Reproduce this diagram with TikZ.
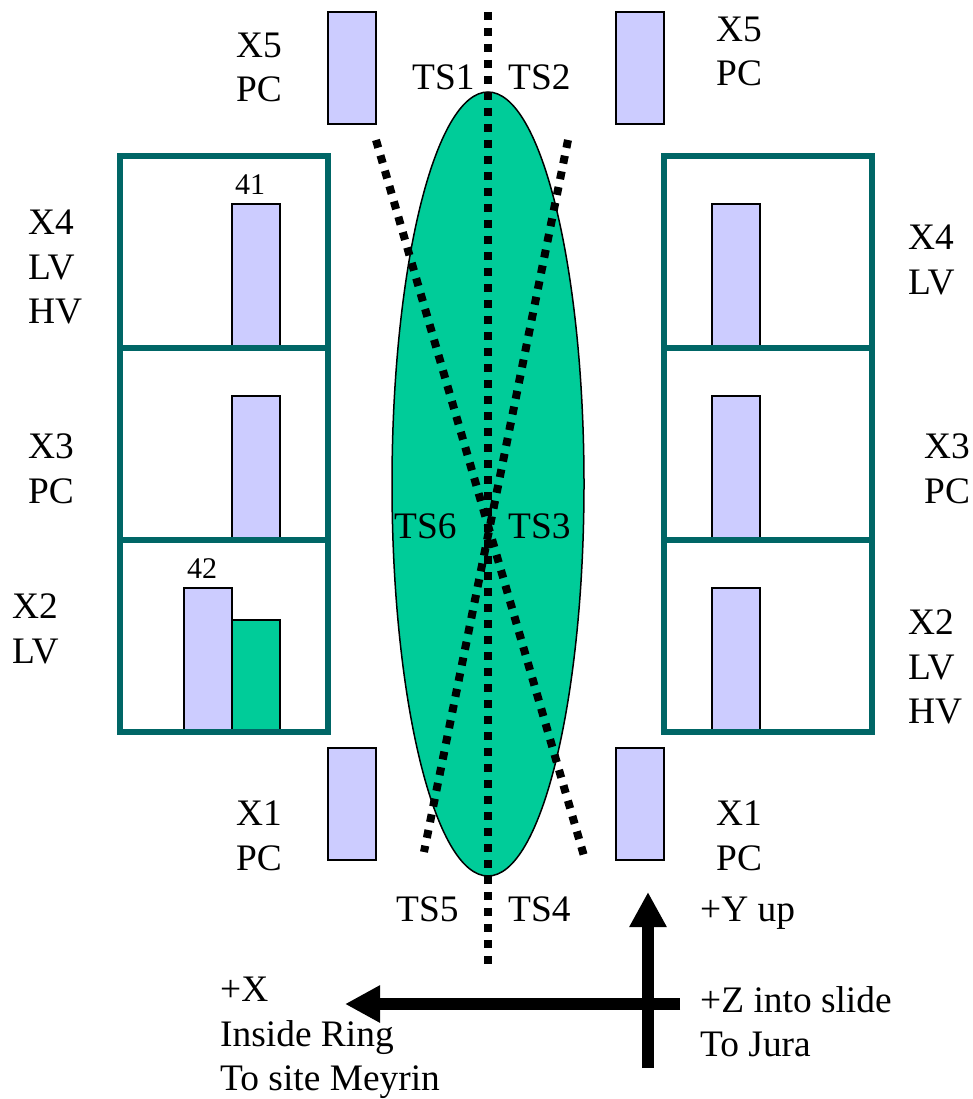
\documentclass[tikz,border=0pt]{standalone}
\usepackage{fontspec}
\setmainfont{Liberation Serif}
\usetikzlibrary{arrows.meta}
\definecolor{teal1}{RGB}{0,102,102}
\definecolor{lav}{RGB}{204,204,255}
\definecolor{grn}{RGB}{0,204,153}
\begin{document}
\begin{tikzpicture}[x=1pt,y=-1pt,
 bar/.style={draw=black,line width=1.5pt,fill=lav,inner sep=0,outer sep=0,minimum width=48pt,anchor=north west},
 cell/.style={draw=teal1,line width=6pt,inner sep=0,outer sep=0,anchor=north west,minimum width=208pt,minimum height=192pt},
 lbl/.style={font=\fontsize{37.4}{44.3}\selectfont,align=left,anchor=north west,inner sep=0},
 small/.style={font=\fontsize{30}{32}\selectfont,inner sep=0,anchor=center},
 dot/.style={line width=8pt,black,dash pattern=on 8pt off 8pt},
 arrow/.style={line width=12pt,-{Triangle[length=35pt,width=35pt]}}]
\useasboundingbox (0,0) rectangle (972,1099);
\node[bar,minimum height=144pt] (c1) at (232,204) {};
\node[bar,minimum height=144pt] (c2) at (232,396) {};
\node[bar,minimum height=144pt] (c3) at (184,588) {};
\node[bar,minimum height=112pt,fill=grn] (c4) at (232,620) {};
\node[bar,minimum height=144pt] (d1) at (712,204) {};
\node[bar,minimum height=144pt] (d2) at (712,396) {};
\node[bar,minimum height=144pt] (d3) at (712,588) {};
\node[cell] (a1) at (120,156) {};
\node[cell] (a2) at (120,348) {};
\node[cell,minimum height=192pt] (a3) at (120,540) {};
\node[cell] (b1) at (664,156) {};
\node[cell] (b2) at (664,348) {};
\node[cell,minimum height=192pt] (b3) at (664,540) {};
\node[bar,minimum height=112pt] (x5l) at (328,12) {};
\node[bar,minimum height=112pt] (x5r) at (616,12) {};
\node[bar,minimum height=112pt] (x1l) at (328,748) {};
\node[bar,minimum height=112pt] (x1r) at (616,748) {};
\draw[black,line width=1.5pt,fill=grn] (488,484) ellipse (96 and 392);
\coordinate (t1) at (488,12); \coordinate (t2) at (488,964);
\coordinate (u1) at (376,140); \coordinate (u2) at (584,856);
\coordinate (v1) at (568,140); \coordinate (v2) at (424,852);
\draw[dot] (t1) -- (t2);
\draw[dot] (u1) -- (u2);
\draw[dot] (v1) -- (v2);
\coordinate (h1) at (680,1004); \coordinate (h2) at (345,1004);
\coordinate (w1) at (648,1068); \coordinate (w2) at (648,892);
\draw[arrow] (h1) -- (h2);
\draw[arrow] (w1) -- (w2);
\node[lbl] (l1) at (236,33) {X5\\PC};
\node[lbl] (l2) at (716,17) {X5\\PC};
\node[lbl] (l3) at (28,210) {X4\\LV\\HV};
\node[lbl] (l4) at (908,225) {X4\\LV};
\node[lbl] (l5) at (28,434) {X3\\PC};
\node[lbl] (l6) at (924,434) {X3\\PC};
\node[lbl] (l7) at (12,594) {X2\\LV};
\node[lbl] (l8) at (908,610) {X2\\LV\\HV};
\node[lbl] (l9) at (236,801) {X1\\PC};
\node[lbl] (l10) at (716,801) {X1\\PC};
\node[lbl] (t1l) at (412,65) {TS1};
\node[lbl] (t2l) at (508,65) {TS2};
\node[lbl] (t6l) at (394,514) {TS6};
\node[lbl] (t3l) at (508,514) {TS3};
\node[lbl] (t5l) at (396,897) {TS5};
\node[lbl] (t4l) at (508,897) {TS4};
\node[small] (n41) at (250,185) {41};
\node[small] (n42) at (202,569) {42};
\node[lbl] (y) at (700,897) {+Y up};
\node[lbl] (z) at (700,986) {+Z into slide\\To Jura};
\node[lbl] (xl) at (220,977) {+X\\Inside Ring\\To site Meyrin};
\end{tikzpicture}
\end{document}
